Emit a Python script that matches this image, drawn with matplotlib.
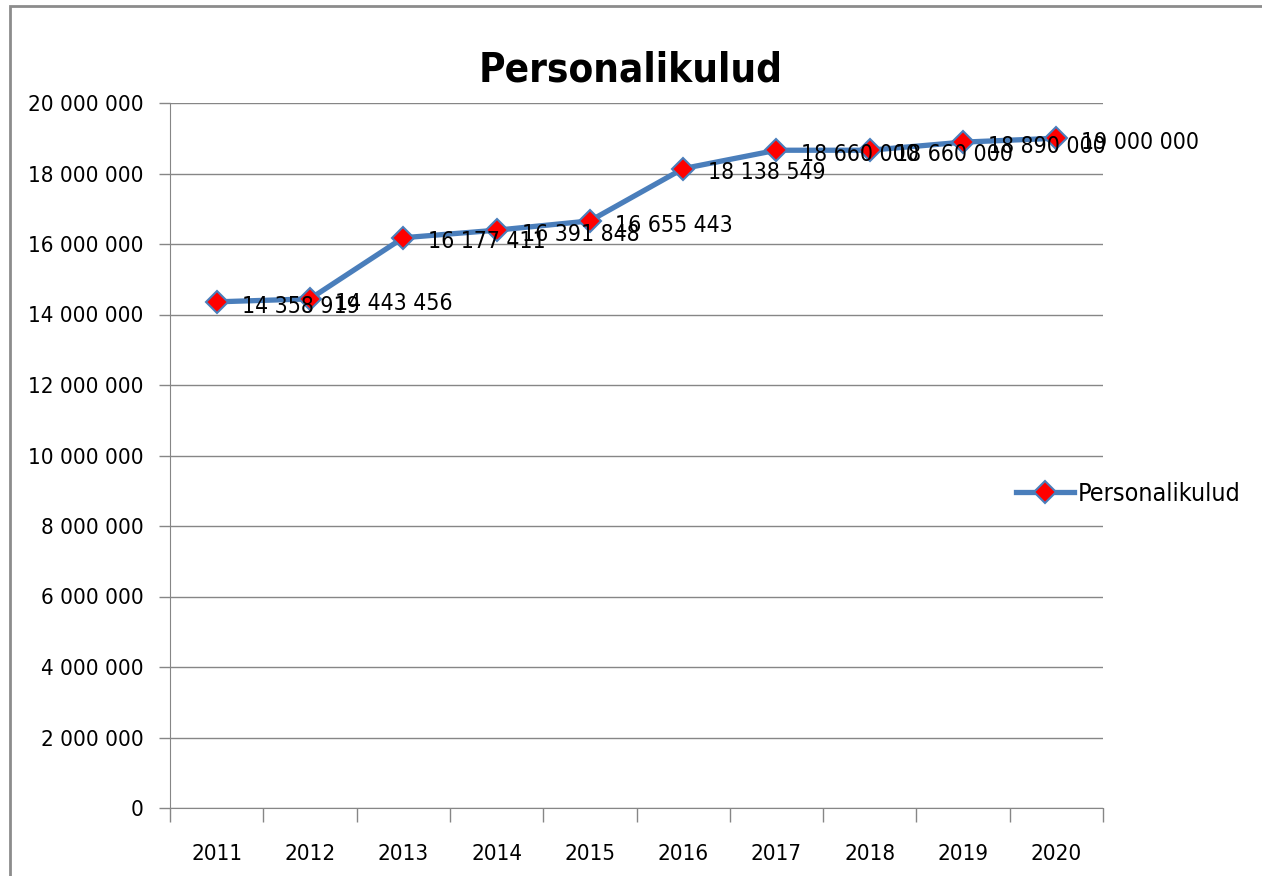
import matplotlib.pyplot as plt
from matplotlib.patches import Rectangle
from matplotlib.ticker import FuncFormatter

years = ['2011', '2012', '2013', '2014', '2015', '2016', '2017', '2018', '2019', '2020']
kulud = [14358919, 14443456, 16177411, 16391848, 16655443, 18138549,
         18660000, 18660000, 18890000, 19000000]
yticks = list(range(0, 20000001, 2000000))

plt.rcParams['font.family'] = ['DejaVu Sans']
plt.rcParams['font.stretch'] = 'condensed'

def spaced(v, pos=None):
    return f'{int(v):,}'.replace(',', ' ')

fig = plt.figure(figsize=(12.62, 8.76), dpi=100)
fig.patches.append(Rectangle((10 / 1262, -0.1), 1.2, (876 - 6) / 876 + 0.1,
                             transform=fig.transFigure, fill=False,
                             edgecolor='#8c8c8c', linewidth=2))

ax = fig.add_axes([170 / 1262, 1 - 808 / 876, (1103 - 170) / 1262, (808 - 103) / 876])

x = list(range(len(years)))
line, = ax.plot(x, kulud, color='#4a7ebb', linewidth=3.8, marker='D',
                markersize=11, markerfacecolor='#ff0000', markeredgecolor='#4a7ebb',
                markeredgewidth=1.5, label='Personalikulud', zorder=3)

# data labels sit right of each point, a bit lower
for xi, v in zip(x, kulud):
    ax.annotate(spaced(v), (xi, v), xytext=(18, -3), textcoords='offset points',
                ha='left', va='center', fontsize=16.5, color='black', zorder=4)

ax.set_xlim(-0.5, len(years) - 0.5)
ax.set_ylim(0, 20000000)
ax.set_yticks(yticks)
ax.yaxis.set_major_formatter(FuncFormatter(spaced))
ax.grid(axis='y', color='#868686', linewidth=1)
ax.set_axisbelow(True)

ax.set_xticks([i - 0.5 for i in range(len(years) + 1)])
ax.set_xticklabels([])
ax.set_xticks(x, minor=True)
ax.set_xticklabels(years, minor=True)
ax.tick_params(axis='x', which='major', length=10, width=1, color='#868686', direction='out')
ax.tick_params(axis='x', which='minor', length=0, pad=26, labelsize=16)
ax.tick_params(axis='y', length=8, width=1, color='#868686', pad=11, labelsize=16)

for s in ['top', 'right']:
    ax.spines[s].set_visible(False)
for s in ['left', 'bottom']:
    ax.spines[s].set_color('#868686')

fig.text(0.5, 1 - 70 / 876, 'Personalikulud', ha='center', va='center',
         fontsize=29, fontweight='bold')

fig.legend(handles=[line], loc='center left', bbox_to_anchor=(1016 / 1262, 1 - 494 / 876),
           frameon=False, fontsize=18, handlelength=2.3, handletextpad=0.15,
           borderpad=0, borderaxespad=0)

fig.savefig('out.png', dpi=100)
